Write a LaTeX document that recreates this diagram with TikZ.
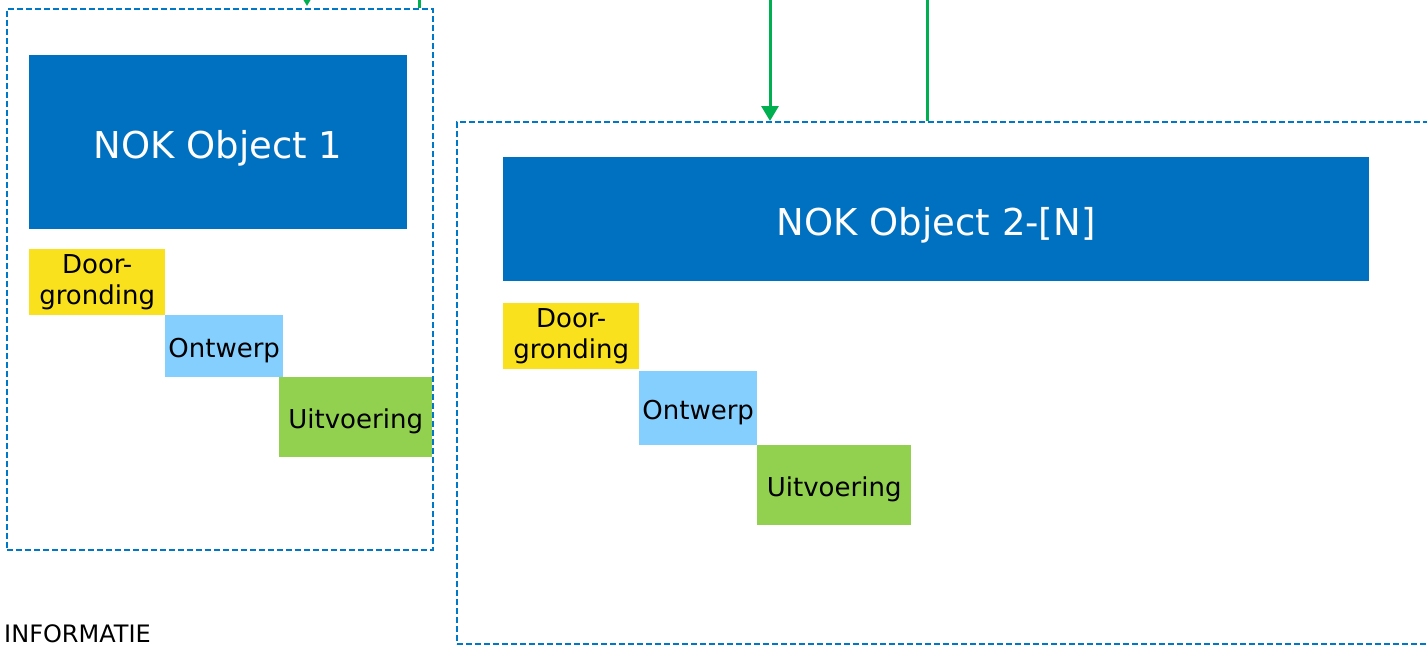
\documentclass[tikz,border=0pt]{standalone}
\usepackage{fontspec}
\setmainfont{DejaVu Sans}
\usetikzlibrary{arrows.meta}
\definecolor{nokblue}{HTML}{0070C0}
\definecolor{dashblue}{HTML}{0078C8}
\definecolor{sticky1}{HTML}{F9E11E}
\definecolor{sticky2}{HTML}{85CFFF}
\definecolor{sticky3}{HTML}{92D050}
\definecolor{arrowgreen}{HTML}{00B050}
\tikzset{
  container/.style={draw=dashblue, line width=1.5pt, dash pattern=on 6pt off 3pt, fill=none, anchor=north west, inner sep=0pt},
  nokbar/.style={fill=nokblue, text=white, anchor=north west, inner sep=0pt, text height=32.4pt, text depth=0pt, font=\fontsize{37}{44}\selectfont},
  stickybox/.style={anchor=north west, inner sep=0pt, align=center, text=black, font=\fontsize{26}{31}\selectfont},
  onelinetext/.style={text height=23pt, text depth=0pt},
  garrow/.style={draw=arrowgreen, line width=3pt, -{Triangle[width=17pt,length=15pt]}},
  gline/.style={draw=arrowgreen, line width=3pt},
}
\begin{document}
\begin{tikzpicture}[x=1pt,y=-1pt]
\useasboundingbox (0,0) rectangle (1427,645);
\clip (0,0) rectangle (1427,645);
\fill[white] (0,0) rectangle (1427,645);

% left container
\node[container, minimum width=426pt, minimum height=541pt] (c1) at (6,8) {};
\node[nokbar, minimum width=378pt, minimum height=174pt] (obj1) at (29,55) {NOK Object 1};
\node[stickybox, fill=sticky1, minimum width=136pt, minimum height=66pt] (d1) at (29,249) {Door-\\gronding};
\node[stickybox, onelinetext, fill=sticky2, minimum width=118pt, minimum height=62pt] (o1) at (165,315) {Ontwerp};
\node[stickybox, onelinetext, fill=sticky3, minimum width=153pt, minimum height=80pt] (u1) at (279,377) {Uitvoering};

% right container
\node[container, minimum width=990pt, minimum height=522pt] (c2) at (456,121) {};
\node[nokbar, minimum width=866pt, minimum height=124pt] (obj2) at (503,157) {NOK Object 2-[N]};
\node[stickybox, fill=sticky1, minimum width=136pt, minimum height=66pt] (d2) at (503,303) {Door-\\gronding};
\node[stickybox, onelinetext, fill=sticky2, minimum width=118pt, minimum height=74pt] (o2) at (639,371) {Ontwerp};
\node[stickybox, onelinetext, fill=sticky3, minimum width=154pt, minimum height=80pt] (u2) at (757,445) {Uitvoering};

% label bottom left
\node[anchor=base east, inner sep=0pt, text=black, font=\fontsize{24}{28}\selectfont] (info) at (151,642) {INFORMATIE};

% green connectors
\coordinate (s1) at (307,-30);
\coordinate (s2) at (419,-30);
\coordinate (s3) at (770,-30);
\coordinate (s4) at (927,-30);
\coordinate (t1) at (307,6);
\draw[garrow] (s1) -- (t1);
\draw[gline] (s2) -- (s2 |- c1.north);
\draw[garrow] (s3) -- (s3 |- c2.north);
\draw[gline] (s4) -- (s4 |- c2.north);
\end{tikzpicture}
\end{document}
